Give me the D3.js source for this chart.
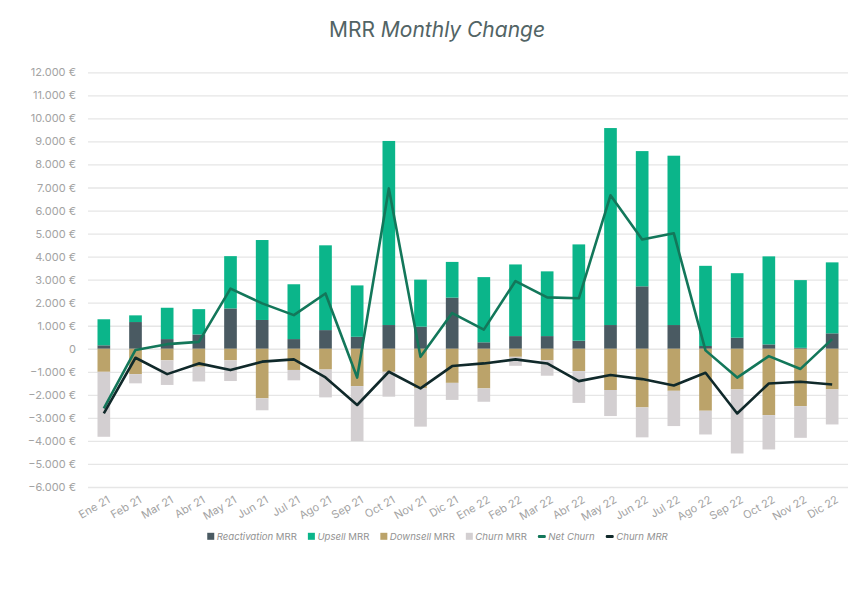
<!DOCTYPE html>
<html><head><meta charset="utf-8">
<script src="https://cdn.jsdelivr.net/npm/d3@7"></script>
<style>
html,body{margin:0;padding:0;background:#fff;}
svg{display:block;font-family:Inter,"Open Sans",sans-serif;}
</style></head>
<body><svg id="c" width="863" height="591"></svg>
<script>
const months = ["Ene 21","Feb 21","Mar 21","Abr 21","May 21","Jun 21","Jul 21","Ago 21","Sep 21","Oct 21","Nov 21","Dic 21",
                "Ene 22","Feb 22","Mar 22","Abr 22","May 22","Jun 22","Jul 22","Ago 22","Sep 22","Oct 22","Nov 22","Dic 22"];
const reactivation = [150,1160,420,620,1750,1250,420,810,520,1030,960,2220,280,550,550,350,1030,2710,1030,120,480,190,40,670];
const upsell       = [1130,290,1360,1100,2270,3470,2380,3680,2230,7990,2040,1550,2830,3110,2810,4180,8550,5870,7350,3480,2800,3820,2940,3080];
const downsell     = [-1000,-1100,-500,-780,-500,-2150,-920,-900,-1620,-1000,-1720,-1480,-1720,-350,-490,-970,-1790,-2545,-1825,-2690,-1765,-2880,-2490,-1765];
const churnBar     = [-2820,-400,-1070,-640,-900,-520,-450,-1210,-2390,-1080,-1660,-740,-580,-390,-680,-1380,-1130,-1300,-1530,-1030,-2780,-1490,-1375,-1520];
const netChurn     = [-2590,-50,200,300,2610,1970,1460,2400,-1250,6960,-350,1550,830,2940,2230,2190,6660,4740,5010,-70,-1250,-320,-875,420];
const churnLine    = [-2800,-390,-1100,-635,-925,-560,-462,-1243,-2440,-998,-1720,-751,-636,-462,-636,-1404,-1142,-1316,-1591,-1042,-2807,-1505,-1432,-1548];
const yTicks = [12000,11000,10000,9000,8000,7000,6000,5000,4000,3000,2000,1000,0,-1000,-2000,-3000,-4000,-5000,-6000];

const col = {react:"#4a5a62", ups:"#0bb58a", down:"#bba36a", churn:"#d3cfd1", net:"#13775a", cline:"#10292a"};

const svg = d3.select("#c");
const m = {l:88, r:848, t:72.3, b:487};
const x = d3.scaleBand().domain(months).range([m.l, m.r]).paddingInner(0.6).paddingOuter(0.3);
const y = d3.scaleLinear().domain([-6000, 12000]).range([m.b, m.t]);

const fmt = v => v === 0 ? "0" : d3.format(",")(v).replace(/,/g, ".") + " €";

// title
const t = svg.append("text").attr("x", 437).attr("y", 37).attr("text-anchor","middle")
  .attr("font-size", 21).attr("fill", "#526465");
t.append("tspan").text("MRR ");
t.append("tspan").attr("font-style","italic").text("Monthly Change");

// gridlines + y labels
const ya = svg.append("g").attr("transform", `translate(${m.l},0)`)
  .call(d3.axisLeft(y).tickValues(yTicks).tickFormat(fmt).tickSize(-(m.r - m.l)).tickPadding(12));
ya.select(".domain").remove();
ya.selectAll(".tick line").attr("stroke", "#e6e6e6").attr("stroke-width", 1.3);
ya.selectAll(".tick text").attr("fill", "#a3a3a3").attr("font-size", 11).attr("font-family","Inter,sans-serif");

// bars
const g = svg.append("g");
function bars(vals, base, color) {
  g.selectAll(null).data(months).enter().append("rect")
    .attr("x", d => x(d)).attr("width", x.bandwidth())
    .attr("y", (d,i) => y(Math.max(base[i], base[i] + vals[i])))
    .attr("height", (d,i) => Math.abs(y(base[i]) - y(base[i] + vals[i])))
    .attr("fill", color);
}
const zero = months.map(() => 0);
bars(reactivation, zero, col.react);
bars(upsell, reactivation, col.ups);
bars(downsell, zero, col.down);
bars(churnBar, downsell, col.churn);

// lines
const cx = d => x(d) + x.bandwidth()/2;
const lineGen = arr => d3.line().x((d) => cx(d)).y((d,i) => y(arr[i]))(months);
svg.append("path").attr("d", lineGen(netChurn)).attr("fill","none").attr("stroke", col.net).attr("stroke-width", 2.6).attr("stroke-linejoin","round");
svg.append("path").attr("d", lineGen(churnLine)).attr("fill","none").attr("stroke", col.cline).attr("stroke-width", 2.6).attr("stroke-linejoin","round");

// x labels
const xa = svg.append("g").attr("transform", `translate(0,${m.b})`)
  .call(d3.axisBottom(x).tickSize(0).tickPadding(0));
xa.select(".domain").remove();
xa.selectAll(".tick text").attr("fill", "#a3a3a3").attr("font-size", 11).attr("font-family","Inter,sans-serif")
  .attr("text-anchor","end").attr("dy", null).attr("y", 0)
  .attr("transform", "translate(7,15) rotate(-30)");

// legend
const legendItems = [
  {it:"Reactivation", rest:" MRR", color: col.react, type:"rect"},
  {it:"Upsell", rest:" MRR", color: col.ups, type:"rect"},
  {it:"Downsell", rest:" MRR", color: col.down, type:"rect"},
  {it:"Churn", rest:" MRR", color: col.churn, type:"rect"},
  {it:"Net Churn", rest:"", color: col.net, type:"line"},
  {it:"Churn MRR", rest:"", color: col.cline, type:"line"}
];
const lg = svg.append("g");
let lx = 0;
const ly = 540;
const gap = 11;
legendItems.forEach(d => {
  const item = lg.append("g").attr("transform", `translate(${lx},0)`);
  let off;
  if (d.type === "rect") {
    item.append("rect").attr("x", 0).attr("y", ly - 7.2).attr("width", 7).attr("height", 7).attr("fill", d.color);
    off = 9.5;
  } else {
    item.append("rect").attr("x", 0).attr("y", ly - 5).attr("width", 8).attr("height", 3).attr("rx",1.2).attr("fill", d.color);
    off = 10.5;
  }
  const tx = item.append("text").attr("x", off).attr("y", ly).attr("font-size", 9.6).attr("fill", "#929292");
  tx.append("tspan").attr("font-style","italic").text(d.it);
  if (d.rest) tx.append("tspan").text(d.rest);
  lx += off + tx.node().getComputedTextLength() + gap;
});
const lw = lx - gap;
lg.attr("transform", `translate(${(207 + 668)/2 - lw/2},0)`);
</script></body></html>
